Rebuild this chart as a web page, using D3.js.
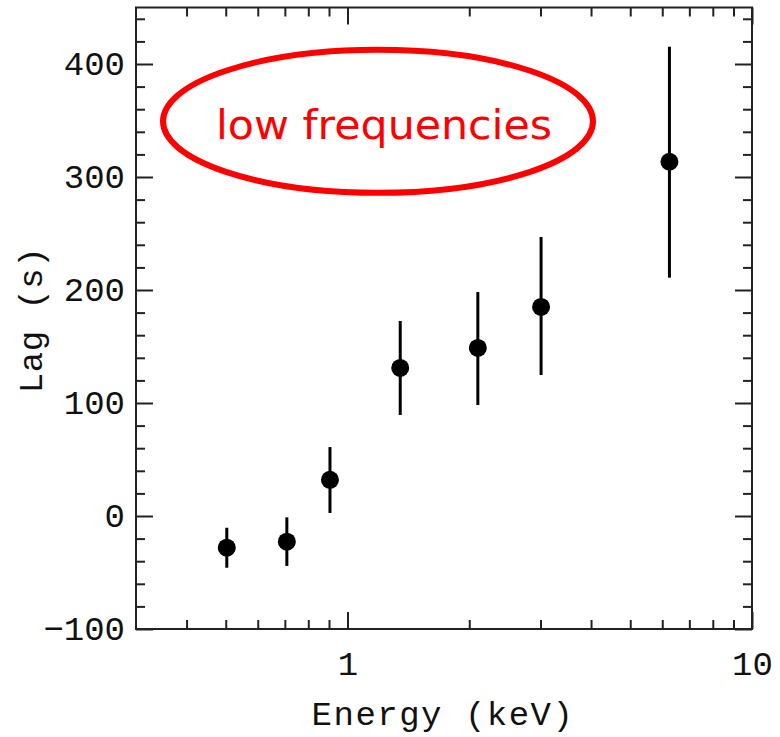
<!DOCTYPE html>
<html>
<head>
<meta charset="utf-8">
<script src="https://cdn.jsdelivr.net/npm/d3@7"></script>
<style>
  html, body { margin: 0; padding: 0; background: #fff; }
  svg { display: block; }
</style>
</head>
<body>
<svg id="chart" width="780" height="737"></svg>
<script>
// ---- data ----
const energy   = [0.503, 0.708, 0.905, 1.35, 2.10, 3.01, 6.25];   // keV
const lag      = [-28, -22.7, 32, 131, 148.7, 185, 313.5];      // s
const lagLow   = [-45.8, -44.2, 2.7, 89.4, 98.2, 124.8, 210.9];
const lagHigh  = [-10.4, -1.2, 61, 172.6, 198.2, 246.9, 415.3];
const xTickLabels = [1, 10];
const yTickLabels = [-100, 0, 100, 200, 300, 400];
const xMinorTicks = [0.4, 0.5, 0.6, 0.7, 0.8, 0.9, 2, 3, 4, 5, 6, 7, 8, 9];
const yMinorTicks = [-80, -60, -40, -20, 20, 40, 60, 80, 120, 140, 160, 180,
                     220, 240, 260, 280, 320, 340, 360, 380, 420, 440];
const xLabel = "Energy (keV)";
const yLabel = "Lag (s)";
const annotation = "low frequencies";

// ---- layout ----
const L = 136, R = 752, T = 7.5, B = 629;
const svg = d3.select("#chart");

const x = d3.scaleLog().domain([0.3, 10]).range([L, R]);
const y = d3.scaleLinear().domain([-100, 450]).range([B, T]);

const axisColor = "#222";
const MAJ = 17, MIN = 9;
const monoFont = "'Liberation Mono', 'DejaVu Sans Mono', monospace";

function styleAxis(g) {
  g.select(".domain").remove();
  g.selectAll(".tick line").attr("stroke", axisColor).attr("stroke-width", 2);
  g.selectAll(".tick text").attr("fill", "#111")
    .style("font-family", monoFont).style("font-size", "34px");
}

// bottom major + minor
svg.append("g").attr("transform", `translate(0,${B})`)
  .call(d3.axisBottom(x).tickValues(xTickLabels).tickFormat(d3.format("d"))
        .tickSizeInner(-MAJ).tickSizeOuter(0).tickPadding(22))
  .call(styleAxis);
svg.append("g").attr("transform", `translate(0,${B})`)
  .call(d3.axisBottom(x).tickValues(xMinorTicks).tickFormat("")
        .tickSizeInner(-MIN).tickSizeOuter(0))
  .call(styleAxis);
// top
svg.append("g").attr("transform", `translate(0,${T})`)
  .call(d3.axisTop(x).tickValues(xTickLabels).tickFormat("")
        .tickSizeInner(-MAJ).tickSizeOuter(0))
  .call(styleAxis);
svg.append("g").attr("transform", `translate(0,${T})`)
  .call(d3.axisTop(x).tickValues(xMinorTicks).tickFormat("")
        .tickSizeInner(-MIN).tickSizeOuter(0))
  .call(styleAxis);
// left
svg.append("g").attr("transform", `translate(${L},0)`)
  .call(d3.axisLeft(y).tickValues(yTickLabels).tickFormat(d => d < 0 ? "\u2212" + Math.abs(d) : d)
        .tickSizeInner(-MAJ).tickSizeOuter(0).tickPadding(11))
  .call(styleAxis);
svg.append("g").attr("transform", `translate(${L},0)`)
  .call(d3.axisLeft(y).tickValues(yMinorTicks).tickFormat("")
        .tickSizeInner(-MIN).tickSizeOuter(0))
  .call(styleAxis);
// right
svg.append("g").attr("transform", `translate(${R},0)`)
  .call(d3.axisRight(y).tickValues(yTickLabels).tickFormat("")
        .tickSizeInner(-MAJ).tickSizeOuter(0))
  .call(styleAxis);
svg.append("g").attr("transform", `translate(${R},0)`)
  .call(d3.axisRight(y).tickValues(yMinorTicks).tickFormat("")
        .tickSizeInner(-MIN).tickSizeOuter(0))
  .call(styleAxis);

// frame
svg.append("rect").attr("x", L).attr("y", T).attr("width", R - L).attr("height", B - T)
  .attr("fill", "none").attr("stroke", axisColor).attr("stroke-width", 2);

// axis labels
svg.append("text").attr("x", (L + R) / 2 - 1).attr("y", 725)
  .attr("text-anchor", "middle").attr("fill", "#111")
  .style("font-family", monoFont).style("font-size", "34px").style("letter-spacing", "1.5px")
  .text(xLabel);
svg.append("text").attr("transform", `translate(42,320) rotate(-90)`)
  .attr("text-anchor", "middle").attr("fill", "#111")
  .style("font-family", monoFont).style("font-size", "34px").style("letter-spacing", "0.5px")
  .text(yLabel);

// data
const data = energy.map((e, i) => ({e, v: lag[i], lo: lagLow[i], hi: lagHigh[i]}));
svg.append("g").selectAll("line").data(data).join("line")
  .attr("x1", d => x(d.e)).attr("x2", d => x(d.e))
  .attr("y1", d => y(d.lo)).attr("y2", d => y(d.hi))
  .attr("stroke", "#000").attr("stroke-width", 3);
svg.append("g").selectAll("circle").data(data).join("circle")
  .attr("cx", d => x(d.e)).attr("cy", d => y(d.v)).attr("r", 9)
  .attr("fill", "#000");

// annotation
svg.append("ellipse").attr("cx", 378).attr("cy", 121.3).attr("rx", 215).attr("ry", 71.5)
  .attr("fill", "none").attr("stroke", "#ff0000").attr("stroke-width", 6);
svg.append("text").attr("x", 384).attr("y", 139).attr("text-anchor", "middle")
  .attr("fill", "#ff0000")
  .style("font-family", "'DejaVu Sans', 'Noto Sans', sans-serif").style("font-size", "40px")
  .attr("textLength", 336).attr("lengthAdjust", "spacingAndGlyphs")
  .text(annotation);
</script>
</body>
</html>
